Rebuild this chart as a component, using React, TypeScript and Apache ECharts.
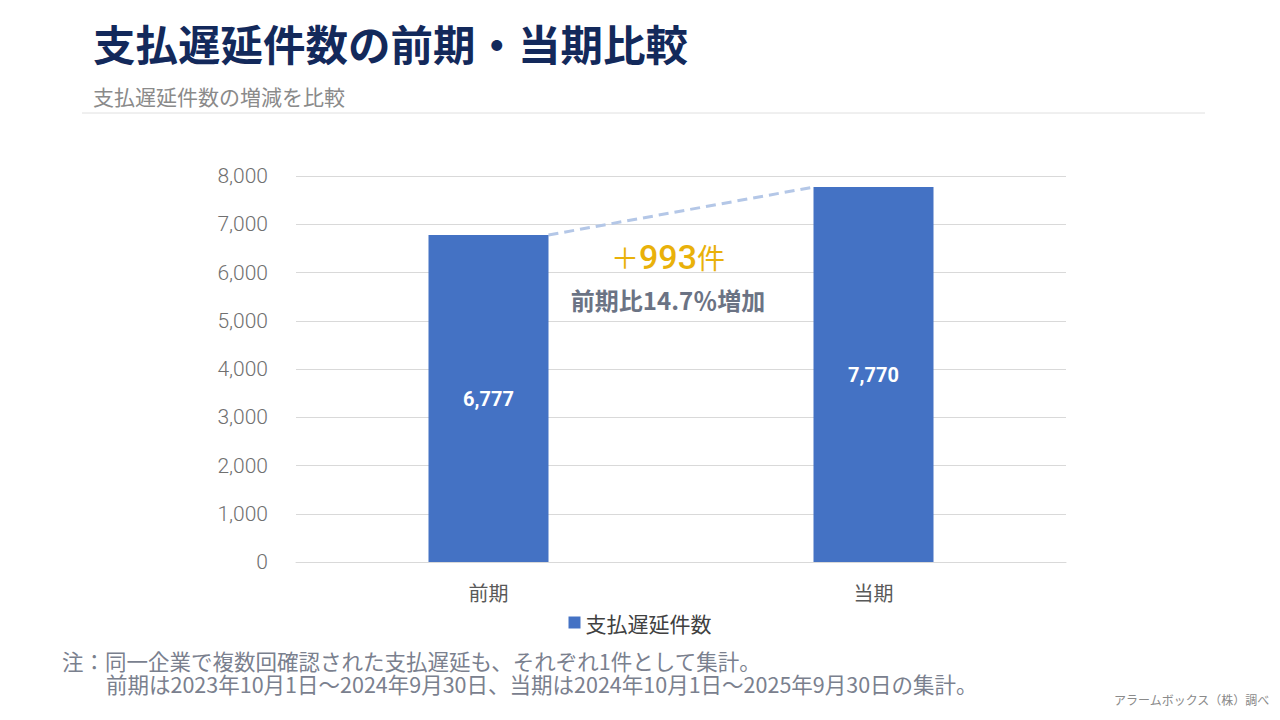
import React, { useEffect, useRef } from 'react';
import * as echarts from 'echarts';

const CATEGORIES = ['前期', '当期'];
const DELAY_COUNTS = [6777, 7770];
const SERIES_NAME = '支払遅延件数';
const Y_MIN = 0;
const Y_MAX = 8000;
const Y_INTERVAL = 1000;

const TITLE = '支払遅延件数の前期・当期比較';
const SUBTITLE = '支払遅延件数の増減を比較';
const NOTE_LINE1 = '注：同一企業で複数回確認された支払遅延も、それぞれ1件として集計。';
const NOTE_LINE2 = '前期は2023年10月1日～2024年9月30日、当期は2024年10月1日～2025年9月30日の集計。';
const SOURCE = 'アラームボックス（株）調べ';

const BAR_WIDTH = 120;
const JP_FONT = '"Noto Sans CJK JP", "Noto Sans", sans-serif';
const NUM_FONT = 'Roboto, "Noto Sans CJK JP", sans-serif';
const ACCENT = '#e9b10a';

const withCommas = (v: number) => v.toLocaleString('en-US');

const App = (): JSX.Element => {
  const divEL = useRef<HTMLDivElement>(null);

  useEffect(() => {
    const instance = echarts.init(divEL.current as any, null, { renderer: 'svg' });

    const diff = DELAY_COUNTS[1] - DELAY_COUNTS[0];
    const pct = ((diff / DELAY_COUNTS[0]) * 100).toFixed(1);

    const option: echarts.EChartsOption = {
      animation: false,
      backgroundColor: '#ffffff',
      textStyle: { fontFamily: JP_FONT },
      grid: { left: 296, right: 214, top: 176, bottom: 158 },
      legend: {
        data: [SERIES_NAME],
        left: 'center',
        top: 607,
        icon: 'rect',
        itemWidth: 12,
        itemHeight: 12,
        itemGap: 6,
        textStyle: { fontSize: 21, color: '#404040', fontFamily: JP_FONT },
      },
      xAxis: {
        type: 'category',
        data: CATEGORIES,
        axisLine: { lineStyle: { color: '#d9d9d9' } },
        axisTick: { show: false },
        axisLabel: { fontSize: 20, color: '#595959', margin: 20, fontFamily: JP_FONT },
      },
      yAxis: {
        type: 'value',
        min: Y_MIN,
        max: Y_MAX,
        interval: Y_INTERVAL,
        axisLine: { show: false },
        axisTick: { show: false },
        axisLabel: {
          fontSize: 21,
          color: '#707070',
          margin: 28,
          fontFamily: NUM_FONT,
          fontWeight: 300,
          formatter: (v: number) => withCommas(v),
        },
        splitLine: { lineStyle: { color: '#d9d9d9' } },
      },
      series: [
        {
          name: SERIES_NAME,
          type: 'bar',
          data: DELAY_COUNTS,
          barWidth: BAR_WIDTH,
          itemStyle: { color: '#4472c4' },
          label: {
            show: true,
            position: 'inside',
            color: '#ffffff',
            fontSize: 20,
            fontWeight: 'bold',
            fontFamily: NUM_FONT,
            formatter: (p: any) => withCommas(p.value),
          },
        },
        {
          type: 'custom',
          silent: true,
          data: [[0, DELAY_COUNTS[0], 1, DELAY_COUNTS[1]]],
          renderItem: (params: any, api: any) => {
            const p0 = api.coord([api.value(0), api.value(1)]);
            const p1 = api.coord([api.value(2), api.value(3)]);
            const x0 = p0[0] + BAR_WIDTH / 2;
            const x1 = p1[0] - BAR_WIDTH / 2;
            const mx = (x0 + x1) / 2 - 13;
            const my = (p0[1] + p1[1]) / 2;
            return {
              type: 'group',
              children: [
                {
                  type: 'line',
                  shape: { x1: x0, y1: p0[1], x2: x1, y2: p1[1] },
                  style: { stroke: '#b4c7e7', lineWidth: 3, lineDash: [10, 6] },
                },
                {
                  type: 'text',
                  x: mx,
                  y: my + 46,
                  style: {
                    text: `{p|＋}{n|${diff}}{k|件}`,
                    align: 'center',
                    verticalAlign: 'middle',
                    rich: {
                      p: { fontSize: 28, fill: ACCENT, fontFamily: JP_FONT },
                      n: { fontSize: 34, fill: ACCENT, fontFamily: NUM_FONT, fontWeight: 500 },
                      k: { fontSize: 28, fill: ACCENT, fontFamily: JP_FONT },
                    },
                  },
                },
                {
                  type: 'text',
                  x: mx,
                  y: my + 88,
                  style: {
                    text: `前期比${pct}％増加`,
                    align: 'center',
                    verticalAlign: 'middle',
                    fontSize: 24,
                    fontWeight: 'bold',
                    fill: '#6b7384',
                    fontFamily: JP_FONT,
                  },
                },
              ],
            };
          },
        },
      ],
      graphic: [
        {
          type: 'text',
          left: 93,
          top: 21,
          style: { text: TITLE, fontSize: 42.5, fontWeight: 'bold', fill: '#13295b', fontFamily: JP_FONT },
        },
        {
          type: 'text',
          left: 93,
          top: 85,
          style: { text: SUBTITLE, fontSize: 21, fill: '#8a8a8a', fontFamily: JP_FONT },
        },
        {
          type: 'line',
          shape: { x1: 82, y1: 113, x2: 1205, y2: 113 },
          style: { stroke: '#e0e0e0', lineWidth: 1 },
        },
        {
          type: 'text',
          left: 62,
          top: 650,
          style: { text: NOTE_LINE1, fontSize: 21.5, fill: '#7a808e', fontFamily: JP_FONT },
        },
        {
          type: 'text',
          left: 106,
          top: 673,
          style: { text: NOTE_LINE2, fontSize: 21.5, fill: '#7a808e', fontFamily: JP_FONT },
        },
        {
          type: 'text',
          right: 10,
          top: 693,
          style: { text: SOURCE, fontSize: 12, fill: '#8a8a8a', fontFamily: JP_FONT },
        },
      ],
    };

    instance.setOption(option);

    return () => {
      instance.dispose();
    };
  }, []);

  return (
    <div
      ref={divEL}
      style={{ position: 'fixed', left: 0, top: 0, width: 1280, height: 720, background: '#fff' }}
    ></div>
  );
};

export default App;
